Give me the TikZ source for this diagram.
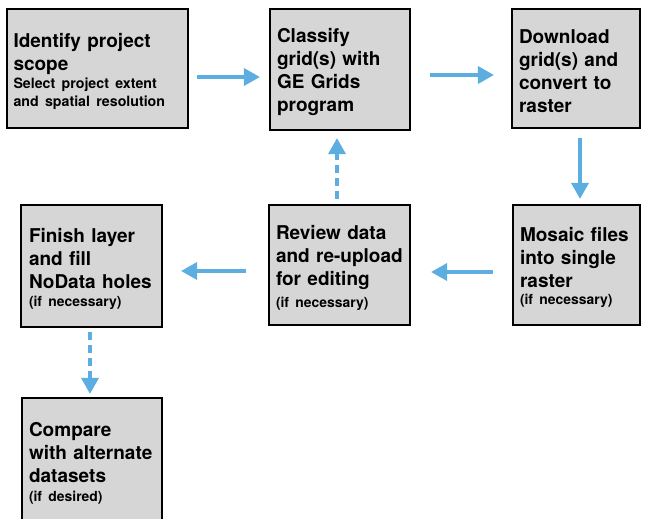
\documentclass[tikz,border=0pt]{standalone}
\usepackage{fontspec}
\setmainfont{TeX Gyre Heros}
\usetikzlibrary{arrows.meta}
\definecolor{boxgray}{RGB}{214,214,214}
\definecolor{flowblue}{RGB}{93,174,224}
\newcommand{\ttl}{\fontsize{19}{23}\selectfont\bfseries}
\newcommand{\sub}[1]{{\fontsize{14.2}{18}\selectfont #1}}
\newcommand{\note}[1]{{\fontsize{13.9}{17}\selectfont #1}}
\begin{document}
\begin{tikzpicture}[x=1pt,y=-1pt,
  stepbox/.style={draw=black, line width=2.2pt, fill=boxgray, rectangle,
    inner xsep=0pt, inner ysep=2pt, align=left, font=\ttl,
    execute at begin node={\rule{0pt}{20pt}}},
  flow/.style={draw=flowblue, line width=3.5pt,
    -{Triangle[length=16pt,width=17pt]}},
  maybe/.style={flow, line width=3.3pt, dash pattern=on 8pt off 5pt}]
\useasboundingbox (0,0) rectangle (649,519);

\node[stepbox, minimum width=181pt, minimum height=119pt, text width=168pt]
  (scope) at (97.5,68.5)
  {Identify project\\scope\\[-5pt]\sub{Select project extent}\\[-5pt]\sub{and spatial resolution}};
\node[stepbox, minimum width=140pt, minimum height=121pt, text width=126pt]
  (classify) at (340,69.5)
  {Classify\\grid(s) with\\GE Grids\\program};
\node[stepbox, minimum width=128pt, minimum height=119pt, text width=114pt]
  (download) at (576,68.5)
  {Download\\grid(s) and\\convert to\\raster};
\node[stepbox, minimum width=127pt, minimum height=120pt, text width=113pt]
  (mosaic) at (576.5,265)
  {Mosaic files\\into single\\raster\\[-6pt]\note{(if necessary)}};
\node[stepbox, minimum width=141pt, minimum height=120pt, text width=127pt]
  (review) at (339.5,265)
  {Review data\\and re-upload\\for editing\\[-1pt]\note{(if necessary)}};
\node[stepbox, minimum width=141pt, minimum height=122pt, text width=125pt]
  (finish) at (91.5,266)
  {Finish layer\\and fill\\NoData holes\\[-5pt]\note{(if necessary)}};
\node[stepbox, minimum width=140pt, minimum height=124pt, text width=126pt]
  (compare) at (92,460)
  {Compare\\with alternate\\datasets\\[-4pt]\note{(if desired)}};

% main sequence
\draw[flow] ([xshift=8pt]scope.east |- 0,77) -- ([xshift=-9pt]classify.west |- 0,77);
\draw[flow] ([xshift=19pt]classify.east |- 0,75) -- ([xshift=-17pt]download.west |- 0,75);
\draw[flow] ([yshift=-9pt]download.south -| 580,0) -- ([yshift=5pt]mosaic.north -| 580,0);
\draw[flow] ([xshift=-19pt]mosaic.west |- 0,272) -- ([xshift=20pt]review.east |- 0,272);
\draw[flow] ([xshift=-22pt]review.west |- 0,271) -- ([xshift=18pt]finish.east |- 0,271);
% optional steps
\draw[maybe] ([yshift=5pt]review.north -| 337,0) -- ([yshift=-7pt]classify.south -| 337,0);
\draw[maybe] ([yshift=-4pt]finish.south -| 90,0) -- ([yshift=3pt]compare.north -| 90,0);
\end{tikzpicture}
\end{document}
